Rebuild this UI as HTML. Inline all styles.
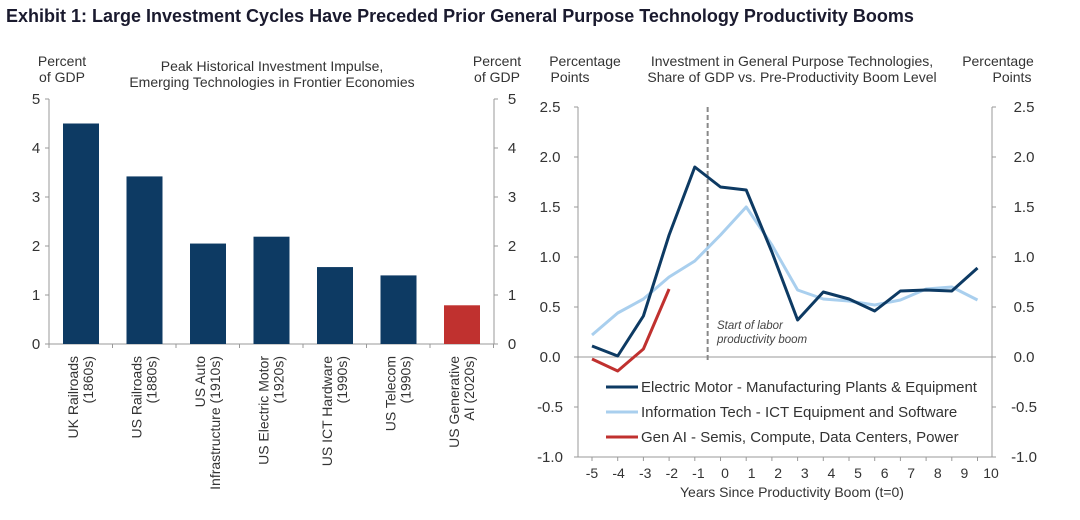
<!DOCTYPE html>
<html><head><meta charset="utf-8"><style>
body{margin:0;background:#fff;width:1080px;height:515px;overflow:hidden}
svg{font-family:"Liberation Sans",Arial,sans-serif}
</style></head><body>
<svg width="1080" height="515">
<text x="6" y="22" font-size="18" font-weight="bold" fill="#1a1a2e">Exhibit 1: Large Investment Cycles Have Preceded Prior General Purpose Technology Productivity Booms</text>
<g id="left" font-size="14" fill="#333">
<text x="62" y="66" text-anchor="middle"><tspan x="62">Percent</tspan><tspan x="62" dy="16">of GDP</tspan></text>
<text x="497" y="66" text-anchor="middle"><tspan x="497">Percent</tspan><tspan x="497" dy="16">of GDP</tspan></text>
<text x="272" y="71" text-anchor="middle"><tspan x="272">Peak Historical Investment  Impulse,</tspan><tspan x="272" dy="16">Emerging  Technologies  in Frontier Economies</tspan></text>
</g>
<g id="right" font-size="14" fill="#333">
<text x="585" y="66" text-anchor="middle"><tspan x="585">Percentage</tspan><tspan x="570" dy="16">Points</tspan></text>
<text x="998" y="66" text-anchor="middle"><tspan x="998">Percentage</tspan><tspan x="1012" dy="16">Points</tspan></text>
<text x="792" y="66" text-anchor="middle"><tspan x="792">Investment  in General Purpose Technologies,</tspan><tspan x="792" dy="16">Share of GDP vs. Pre-Productivity  Boom Level</tspan></text>
<text x="792" y="497" text-anchor="middle">Years Since Productivity Boom (t=0)</text>
<text x="717" y="329" font-size="11.5" font-style="italic" fill="#444"><tspan x="717">Start of labor</tspan><tspan x="717" dy="14">productivity boom</tspan></text>
</g>
</svg>
<script>
const barCats=[["UK Railroads","(1860s)"],["US Railroads","(1880s)"],["US Auto","Infrastructure (1910s)"],["US Electric Motor","(1920s)"],["US ICT Hardware","(1990s)"],["US Telecom","(1990s)"],["US Generative","AI (2020s)"]];
const barVals=[4.5,3.42,2.05,2.19,1.57,1.4,0.79];
const barTicks=[0,1,2,3,4,5];
const years=[-5,-4,-3,-2,-1,0,1,2,3,4,5,6,7,8,9,10];
const electric=[0.11,0.01,0.41,1.22,1.9,1.7,1.67,1.05,0.37,0.65,0.58,0.46,0.66,0.67,0.66,0.89];
const ict=[0.22,0.44,0.58,0.8,0.96,1.22,1.5,1.12,0.67,0.58,0.56,0.52,0.57,0.68,0.7,0.57];
const genai=[-0.02,-0.14,0.08,0.68];
const lineTicks=[-1.0,-0.5,0.0,0.5,1.0,1.5,2.0,2.5];
const NS="http://www.w3.org/2000/svg";
function mk(p,t,a){const e=document.createElementNS(NS,t);for(const k in a)e.setAttribute(k,a[k]);p.appendChild(e);return e;}
const L=document.getElementById('left'),R=document.getElementById('right');
const by=v=>344-v*49, bx=i=>81+i*63.5;
let e=mk(L,'line',{x1:49,y1:by(0),x2:49,y2:by(5),stroke:'#999'});

e=mk(L,'line',{x1:494,y1:by(0),x2:494,y2:by(5),stroke:'#999'});

e=mk(L,'line',{x1:49,y1:by(0),x2:494,y2:by(0),stroke:'#999'});

barTicks.forEach(t=>{
 mk(L,'line',{x1:45,y1:by(t),x2:49,y2:by(t),stroke:'#999'});
 mk(L,'line',{x1:494,y1:by(t),x2:498,y2:by(t),stroke:'#999'});
 e=mk(L,'text',{x:36,y:by(t)+5,'text-anchor':'middle','font-size':15});e.textContent=t;
 
 e=mk(L,'text',{x:512,y:by(t)+5,'text-anchor':'middle','font-size':15});e.textContent=t;
 
});
for(let i=0;i<=barVals.length;i++)mk(L,'line',{x1:49+i*63.5,y1:by(0),x2:49+i*63.5,y2:by(0)+4,stroke:'#999'});
barVals.forEach((v,i)=>{
 e=mk(L,'rect',{x:bx(i)-18,y:by(v),width:36,height:by(0)-by(v),fill:i==6?'#c0312f':'#0d3a63'});
 
 const lines=barCats[i];
 const t=mk(L,'text',{transform:`translate(${bx(i)},356) rotate(-90)`,'text-anchor':'end','font-size':14});
 
 lines.forEach((s,j)=>{const ts=mk(t,'tspan',{x:0,y:-3+j*15});ts.textContent=s;});
});
const ly=v=>357-v*100, lx=y=>592+(y+5)*25.7;
e=mk(R,'line',{x1:578,y1:ly(-1),x2:578,y2:ly(2.5),stroke:'#999'});

e=mk(R,'line',{x1:992,y1:ly(-1),x2:992,y2:ly(2.5),stroke:'#999'});

e=mk(R,'line',{x1:578,y1:ly(0),x2:992,y2:ly(0),stroke:'#999'});

e=mk(R,'line',{x1:578,y1:ly(-1),x2:992,y2:ly(-1),stroke:'#999'});

lineTicks.forEach(t=>{
 mk(R,'line',{x1:574,y1:ly(t),x2:578,y2:ly(t),stroke:'#999'});
 mk(R,'line',{x1:992,y1:ly(t),x2:996,y2:ly(t),stroke:'#999'});
 e=mk(R,'text',{x:550,y:ly(t)+5,'text-anchor':'middle','font-size':15});e.textContent=t.toFixed(1);
 
 e=mk(R,'text',{x:1024,y:ly(t)+5,'text-anchor':'middle','font-size':15});e.textContent=t.toFixed(1);
 
});
years.forEach(y=>{
 mk(R,'line',{x1:lx(y),y1:ly(-1),x2:lx(y),y2:ly(-1)+4,stroke:'#999'});
 e=mk(R,'text',{x:lx(y)+(y+5)*0.9,y:478,'text-anchor':'middle','font-size':14});e.textContent=y;
 
});
e=mk(R,'line',{x1:(lx(-1)+lx(0))/2,y1:ly(2.5),x2:(lx(-1)+lx(0))/2,y2:ly(-0.05),stroke:'#888','stroke-width':2,'stroke-dasharray':'5,3'});

function series(vals,col,name){const p=mk(R,'polyline',{points:vals.map((v,i)=>lx(years[i])+','+ly(v)).join(' '),fill:'none',stroke:col,'stroke-width':3,'stroke-linejoin':'round'});
 }
series(ict,'#a9cfee','ict-line');
series(electric,'#0d3a63','electric-motor-line');
series(genai,'#c0312f','gen-ai-line');
const leg=[['#0d3a63','Electric Motor -  Manufacturing Plants & Equipment'],['#a9cfee','Information Tech - ICT Equipment and Software'],['#c0312f','Gen AI - Semis, Compute, Data Centers, Power']];
leg.forEach((l,i)=>{const y=387+i*25;
 e=mk(R,'line',{x1:606,y1:y,x2:638,y2:y,stroke:l[0],'stroke-width':3});
 
 e=mk(R,'text',{x:641,y:y+5,'font-size':15});e.textContent=l[1];
 
});
</script>
</body></html>
